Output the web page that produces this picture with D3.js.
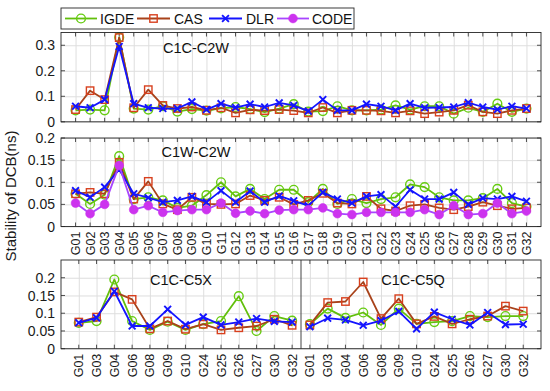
<!DOCTYPE html>
<html><head><meta charset="utf-8">
<script src="https://cdn.jsdelivr.net/npm/d3@7"></script>
<style>
html,body{margin:0;padding:0;background:#fff;}
svg{display:block;font-family:"Liberation Sans",Arial,sans-serif;}
</style></head>
<body><svg id="c" width="550" height="391"></svg>
<script>
// ---------- data ----------
const sats32 = ["G01","G02","G03","G04","G05","G06","G07","G08","G09","G10","G11","G12","G13","G14","G15","G16",
                "G17","G18","G19","G20","G21","G22","G23","G24","G25","G26","G27","G28","G29","G30","G31","G32"];
const sats13 = ["G01","G03","G04","G06","G08","G09","G10","G24","G25","G26","G27","G30","G32"];
const seriesNames = ["IGDE","CAS","DLR","CODE"];

// C1C-C2W
const c2wIGDE = [0.045,0.048,0.045,0.331,0.052,0.048,0.061,0.040,0.050,0.044,0.053,0.058,0.050,0.038,0.052,0.069,
                 0.040,0.042,0.061,0.045,0.045,0.048,0.064,0.048,0.061,0.061,0.032,0.055,0.039,0.071,0.039,0.052];
const c2wCAS  = [0.048,0.122,0.087,0.330,0.055,0.126,0.064,0.052,0.058,0.045,0.055,0.035,0.047,0.044,0.048,0.044,
                 0.035,0.056,0.035,0.045,0.045,0.043,0.035,0.043,0.032,0.038,0.045,0.065,0.039,0.032,0.045,0.052];
const c2wDLR  = [0.061,0.055,0.087,0.295,0.071,0.055,0.052,0.052,0.078,0.048,0.071,0.056,0.069,0.058,0.074,0.064,
                 0.042,0.087,0.045,0.045,0.069,0.061,0.045,0.071,0.055,0.056,0.058,0.075,0.058,0.048,0.061,0.052];
// C1W-C2W
const w2wIGDE = [0.074,0.051,0.072,0.159,0.062,0.066,0.059,0.042,0.047,0.071,0.100,0.068,0.085,0.062,0.083,0.083,
                 0.055,0.085,0.051,0.062,0.053,0.062,0.066,0.095,0.089,0.066,0.059,0.059,0.064,0.085,0.053,0.045];
const w2wCAS  = [0.074,0.077,0.074,0.145,0.062,0.102,0.051,0.038,0.066,0.051,0.050,0.051,0.070,0.059,0.066,0.050,
                 0.059,0.075,0.053,0.051,0.068,0.040,0.035,0.047,0.050,0.042,0.038,0.045,0.055,0.047,0.040,0.042];
const w2wDLR  = [0.081,0.066,0.089,0.129,0.074,0.065,0.055,0.059,0.068,0.055,0.081,0.055,0.080,0.055,0.069,0.058,
                 0.047,0.077,0.062,0.053,0.068,0.072,0.045,0.083,0.062,0.062,0.077,0.050,0.064,0.062,0.068,0.057];
const w2wCODE = [0.053,0.029,0.050,0.138,0.038,0.047,0.032,0.036,0.038,0.038,0.053,0.030,0.035,0.029,0.037,0.038,
                 0.038,0.042,0.029,0.027,0.032,0.032,0.032,0.032,0.038,0.027,0.047,0.027,0.029,0.053,0.029,0.035];
// C1C-C5X
const c5xIGDE = [0.073,0.078,0.195,0.078,0.053,0.076,0.053,0.069,0.078,0.148,0.050,0.092,0.079];
const c5xCAS  = [0.075,0.089,0.160,0.139,0.056,0.078,0.055,0.069,0.053,0.059,0.064,0.083,0.066];
const c5xDLR  = [0.073,0.087,0.162,0.064,0.064,0.111,0.067,0.089,0.067,0.075,0.085,0.077,0.075];
// C1C-C5Q
const c5qIGDE = [0.069,0.113,0.087,0.102,0.067,0.113,0.070,0.075,0.078,0.092,0.089,0.092,0.092];
const c5qCAS  = [0.067,0.130,0.133,0.188,0.085,0.141,0.070,0.091,0.070,0.083,0.092,0.120,0.106];
const c5qDLR  = [0.062,0.086,0.081,0.066,0.079,0.105,0.056,0.103,0.083,0.067,0.102,0.068,0.069];

const ticksTop = [0,0.1,0.2,0.3];
const ticksMid = [0,0.05,0.1,0.15,0.2];
const ticksBot = [0,0.05,0.1,0.15,0.2];

// ---------- styles ----------
const style = {
  IGDE:{line:"#62bf0c", mk:"circle", mc:"#66cc11"},
  CAS: {line:"#a8421a", mk:"square", mc:"#d8401e"},
  DLR: {line:"#1414ff", mk:"x",      mc:"#1414ff"},
  CODE:{line:"#a845ff", mk:"dot",    mc:"#cc33ee"}
};
const FONT = '"Liberation Sans",Arial,sans-serif';
const svg = d3.select("#c");
const L = 61, R = 541;
const axisColor = "#262626", gridColor = "#dedede";

function marker(g, type, cx, cy, color){
  if(type==="circle") g.append("circle").attr("cx",cx).attr("cy",cy).attr("r",4.4)
      .attr("fill","none").attr("stroke",color).attr("stroke-width",1.4);
  else if(type==="square") g.append("rect").attr("x",cx-3.7).attr("y",cy-3.7).attr("width",7.4).attr("height",7.4)
      .attr("fill","none").attr("stroke",color).attr("stroke-width",1.4);
  else if(type==="x") g.append("path").attr("d",`M${cx-3.4},${cy-3.4}L${cx+3.4},${cy+3.4}M${cx-3.4},${cy+3.4}L${cx+3.4},${cy-3.4}`)
      .attr("stroke",color).attr("stroke-width",1.9).attr("fill","none");
  else if(type==="dot") g.append("circle").attr("cx",cx).attr("cy",cy).attr("r",4.4).attr("fill",color).attr("stroke",color).attr("stroke-width",0.6);
}

function panel(cfg){
  const g = svg.append("g");
  const x = d3.scaleLinear().domain([0,cfg.nx]).range([L,R]);
  const y = d3.scaleLinear().domain([0,cfg.ymax]).range([cfg.y0,cfg.y1]);
  // grid
  const gx = g.append("g").attr("transform",`translate(0,${cfg.y0})`)
    .call(d3.axisBottom(x).tickValues(cfg.xticks.map(t=>t.pos)).tickSize(-(cfg.y0-cfg.y1)).tickFormat(""));
  gx.selectAll("line").attr("stroke",gridColor).attr("stroke-width",1);
  gx.select(".domain").remove();
  const gy = g.append("g").attr("transform",`translate(${L},0)`)
    .call(d3.axisLeft(y).tickValues(cfg.yticks).tickSize(-(R-L)).tickFormat(""));
  gy.selectAll("line").attr("stroke",gridColor).attr("stroke-width",1);
  gy.select(".domain").remove();
  // inward ticks
  const tk = 4;
  cfg.xticks.forEach(t=>{
    g.append("line").attr("x1",x(t.pos)).attr("x2",x(t.pos)).attr("y1",cfg.y0).attr("y2",cfg.y0-tk).attr("stroke",axisColor).attr("stroke-width",0.8);
    g.append("line").attr("x1",x(t.pos)).attr("x2",x(t.pos)).attr("y1",cfg.y1).attr("y2",cfg.y1+tk).attr("stroke",axisColor).attr("stroke-width",0.8);
  });
  cfg.yticks.forEach(v=>{
    g.append("line").attr("x1",L).attr("x2",L+tk).attr("y1",y(v)).attr("y2",y(v)).attr("stroke",axisColor).attr("stroke-width",0.8);
    g.append("line").attr("x1",R).attr("x2",R-tk).attr("y1",y(v)).attr("y2",y(v)).attr("stroke",axisColor).attr("stroke-width",0.8);
    g.append("text").attr("x",L-6).attr("y",y(v)).attr("dy","0.36em").attr("text-anchor","end")
      .attr("font-size",14).attr("fill","#1a1a1a").text(v===0?"0":String(v));
  });
  // divider
  if(cfg.divider!==undefined){
    g.append("line").attr("x1",x(cfg.divider)).attr("x2",x(cfg.divider)).attr("y1",cfg.y0).attr("y2",cfg.y1)
      .attr("stroke","#444").attr("stroke-width",1);
  }
  // series
  const line = d3.line().x(d=>x(d[0])).y(d=>y(d[1]));
  cfg.series.forEach(s=>{
    const st = style[s.name];
    s.groups.forEach(grp=>{
      const pts = grp.vals.map((v,i)=>[grp.pos[i],v]);
      g.append("path").attr("d",line(pts)).attr("fill","none").attr("stroke",st.line).attr("stroke-width",1.8).attr("stroke-linejoin","round");
      pts.forEach(p=>marker(g, st.mk, x(p[0]), y(p[1]), st.mc));
    });
  });
  // box
  g.append("rect").attr("x",L).attr("y",cfg.y1).attr("width",R-L).attr("height",cfg.y0-cfg.y1)
    .attr("fill","none").attr("stroke",axisColor).attr("stroke-width",0.9);
  // x labels
  if(cfg.showX){
    cfg.xticks.forEach(t=>{
      g.append("text").attr("transform",`translate(${x(t.pos)},${cfg.y0+5}) rotate(-90)`)
        .attr("text-anchor","end").attr("dy","0.36em").attr("font-size",12.5).attr("fill","#1a1a1a").text(t.label);
    });
  }
  // titles
  cfg.titles.forEach(tt=>{
    g.append("text").attr("x",tt.x).attr("y",tt.y).attr("text-anchor","middle").attr("font-size",14.5).attr("fill","#111").text(tt.text);
  });
}

const pos32 = sats32.map((s,i)=>i+1);
const xt32 = sats32.map((s,i)=>({pos:i+1,label:s}));
const posL = sats13.map((s,i)=>i+1);
const posR = sats13.map((s,i)=>i+14);
const xtBot = sats13.map((s,i)=>({pos:i+1,label:s})).concat(sats13.map((s,i)=>({pos:i+14,label:s})));

panel({nx:33, ymax:0.35, y0:121.8, y1:32.5, yticks:ticksTop, xticks:xt32, showX:false,
  titles:[{text:"C1C-C2W", x:196, y:53}],
  series:[{name:"IGDE",groups:[{pos:pos32,vals:c2wIGDE}]},
          {name:"CAS", groups:[{pos:pos32,vals:c2wCAS}]},
          {name:"DLR", groups:[{pos:pos32,vals:c2wDLR}]}]});

panel({nx:33, ymax:0.2, y0:226.5, y1:138, yticks:ticksMid, xticks:xt32, showX:true,
  titles:[{text:"C1W-C2W", x:196, y:157}],
  series:[{name:"IGDE",groups:[{pos:pos32,vals:w2wIGDE}]},
          {name:"CAS", groups:[{pos:pos32,vals:w2wCAS}]},
          {name:"DLR", groups:[{pos:pos32,vals:w2wDLR}]},
          {name:"CODE",groups:[{pos:pos32,vals:w2wCODE}]}]});

panel({nx:27, ymax:0.25, y0:348.7, y1:260, yticks:ticksBot, xticks:xtBot, showX:true, divider:13.5,
  titles:[{text:"C1C-C5X", x:181, y:285},{text:"C1C-C5Q", x:413, y:285}],
  series:[{name:"IGDE",groups:[{pos:posL,vals:c5xIGDE},{pos:posR,vals:c5qIGDE}]},
          {name:"CAS", groups:[{pos:posL,vals:c5xCAS},{pos:posR,vals:c5qCAS}]},
          {name:"DLR", groups:[{pos:posL,vals:c5xDLR},{pos:posR,vals:c5qDLR}]}]});

// y label
svg.append("text").attr("transform","translate(16,196) rotate(-90)").attr("text-anchor","middle")
  .attr("font-size",15).attr("fill","#1a1a1a").text("Stability of DCB(ns)");

// legend
const lg = svg.append("g");
lg.append("rect").attr("x",61).attr("y",8).attr("width",293).attr("height",21).attr("fill","#fff")
  .attr("stroke",axisColor).attr("stroke-width",0.9);
const legItems = [{name:"IGDE",x1:65,x2:97,tx:100},{name:"CAS",x1:137,x2:170,tx:174},
                  {name:"DLR",x1:209,x2:242,tx:246},{name:"CODE",x1:277,x2:309,tx:312}];
legItems.forEach(it=>{
  const st = style[it.name];
  lg.append("line").attr("x1",it.x1).attr("x2",it.x2).attr("y1",18.5).attr("y2",18.5).attr("stroke",st.line).attr("stroke-width",1.8);
  marker(lg, st.mk, (it.x1+it.x2)/2, 18.5, st.mc);
  lg.append("text").attr("x",it.tx).attr("y",18.5).attr("dy","0.36em").attr("font-size",14).attr("fill","#111").text(it.name);
});
</script>
</body></html>
